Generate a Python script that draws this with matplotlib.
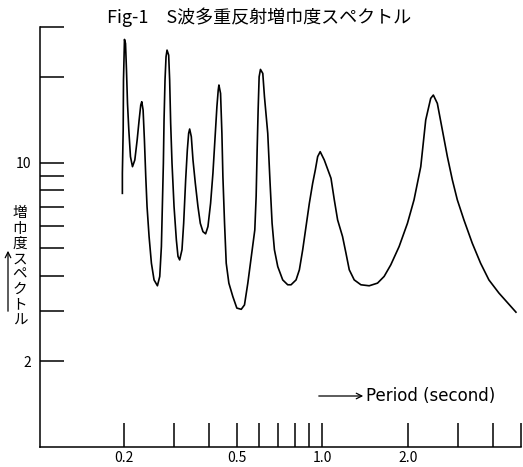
import matplotlib
matplotlib.use("Agg")
import matplotlib.pyplot as plt

plt.rcParams['font.family'] = ['Noto Sans CJK JP', 'DejaVu Sans']

# Period (s) and amplification
period = [0.198, 0.198, 0.1993, 0.1998, 0.2009, 0.2014, 0.2031, 0.2047, 0.2064, 0.2086,
          0.2114, 0.2149, 0.2190, 0.2232, 0.2268, 0.2298, 0.2317, 0.2342, 0.2367, 0.2393,
          0.2418, 0.2458, 0.2505, 0.2559, 0.2630, 0.2680, 0.2716, 0.2738, 0.2760, 0.2775,
          0.2797, 0.2820, 0.2843, 0.2881, 0.2904, 0.2928, 0.2960, 0.3009, 0.3066, 0.3107,
          0.3149, 0.3209, 0.3253, 0.3306, 0.3351, 0.3387, 0.3415, 0.3461, 0.3508, 0.3575,
          0.3652, 0.3722, 0.3803, 0.3886, 0.3960, 0.4046, 0.4123, 0.4190, 0.4258, 0.4304,
          0.4328, 0.4386, 0.4434, 0.4470, 0.4530, 0.4592, 0.4691, 0.4845, 0.5004, 0.5186,
          0.5324, 0.5470, 0.5666, 0.5788, 0.5851, 0.5899, 0.5946, 0.5995, 0.6060, 0.6175,
          0.6259, 0.6428, 0.6551, 0.6658, 0.6785, 0.6971, 0.7256, 0.7556, 0.7763, 0.8085,
          0.8305, 0.8532, 0.8764, 0.9004, 0.9248, 0.9450, 0.9630, 0.9830, 1.016, 1.073,
          1.102, 1.132, 1.178, 1.211, 1.244, 1.295, 1.367, 1.462, 1.564, 1.650,
          1.741, 1.863, 1.993, 2.102, 2.220, 2.311, 2.406, 2.458, 2.539, 2.644,
          2.754, 2.867, 2.985, 3.149, 3.369, 3.604, 3.855, 4.180, 4.718, 4.80]
amplification = [7.80, 9.18, 13.03, 19.52, 24.88, 27.13, 26.26, 21.17, 16.16, 13.03,
                 10.50, 9.68, 10.22, 12.02, 14.13, 15.95, 16.38, 15.31, 12.02, 8.93,
                 7.01, 5.50, 4.43, 3.87, 3.69, 3.98, 5.07, 7.01, 9.95, 14.13,
                 19.52, 23.57, 24.88, 23.89, 19.52, 13.75, 9.95, 7.01, 5.35, 4.68,
                 4.55, 4.94, 6.12, 8.70, 11.08, 12.68, 13.13, 12.34, 10.22, 8.46,
                 7.01, 6.12, 5.72, 5.62, 5.96, 7.20, 9.18, 12.02, 15.73, 18.01,
                 18.75, 17.52, 12.68, 8.93, 6.12, 4.43, 3.77, 3.38, 3.08, 3.05,
                 3.16, 3.77, 4.94, 5.80, 7.60, 11.08, 15.31, 20.05, 21.28, 20.60,
                 17.06, 12.68, 8.46, 6.12, 4.94, 4.31, 3.87, 3.72, 3.72, 3.87,
                 4.20, 4.94, 5.96, 7.20, 8.46, 9.43, 10.50, 10.93, 10.22, 8.81,
                 7.40, 6.29, 5.50, 4.81, 4.20, 3.87, 3.72, 3.69, 3.77, 3.98,
                 4.37, 5.07, 6.12, 7.40, 9.68, 14.13, 16.83, 17.29, 16.16, 13.03,
                 10.50, 8.70, 7.40, 6.29, 5.21, 4.43, 3.87, 3.48, 3.04, 2.98]

x_ticks = [0.2, 0.3, 0.4, 0.5, 0.6, 0.7, 0.8, 0.9, 1.0, 2.0, 3.0, 4.0, 5.0]
x_tick_labels = ["0.2", "", "", "0.5", "", "", "", "", "1.0", "2.0", "", "", ""]
y_ticks = [2, 3, 4, 5, 6, 7, 8, 9, 10, 20, 30]
y_tick_labels = ["2", "", "", "", "", "", "", "", "10", "", ""]

title = "Fig-1　S波多重反射増巾度スペクトル"
y_label = "増\n巾\n度\nス\nペ\nク\nト\nル"
x_label = "Period (second)"

W, H = 523, 467
fig = plt.figure(figsize=(W / 100, H / 100), dpi=100)
ax = fig.add_axes([40 / W, 1 - 447 / H, (521 - 40) / W, (447 - 27) / H])

ax.plot(period, amplification, color="black", lw=1.2, solid_joinstyle="round")
ax.set_xscale("log")
ax.set_yscale("log")
ax.set_xlim(0.1016, 5.0)
ax.set_ylim(1.0, 30.0)

ax.set_xticks(x_ticks)
ax.set_xticklabels(x_tick_labels)
ax.set_yticks(y_ticks)
ax.set_yticklabels(y_tick_labels)
ax.minorticks_off()
ax.tick_params(axis="both", which="major", direction="in", length=17, width=1.1,
               labelsize=10, colors="black")
ax.tick_params(axis="x", pad=3)
ax.tick_params(axis="y", pad=6)

for s in ["top", "right"]:
    ax.spines[s].set_visible(False)
for s in ["left", "bottom"]:
    ax.spines[s].set_linewidth(1.1)

fig.text(107 / W, 1 - 17 / H, title, fontsize=13, ha="left", va="center")
fig.text(20 / W, 1 - 267 / H, y_label, fontsize=10.5, ha="center", va="center",
         linespacing=1.12)
ax.annotate("", xy=(8 / W, 1 - 248 / H), xytext=(8 / W, 1 - 314 / H),
            xycoords="figure fraction", textcoords="figure fraction",
            arrowprops=dict(arrowstyle="->", lw=0.9, color="black"))
ax.annotate("", xy=(366 / W, 1 - 396 / H), xytext=(316 / W, 1 - 396 / H),
            xycoords="figure fraction", textcoords="figure fraction",
            arrowprops=dict(arrowstyle="->", lw=0.9, color="black"))
fig.text(366 / W, 1 - 396 / H, x_label, fontsize=12, ha="left", va="center",
         family=["DejaVu Sans"])

fig.savefig("out.png", dpi=100)
